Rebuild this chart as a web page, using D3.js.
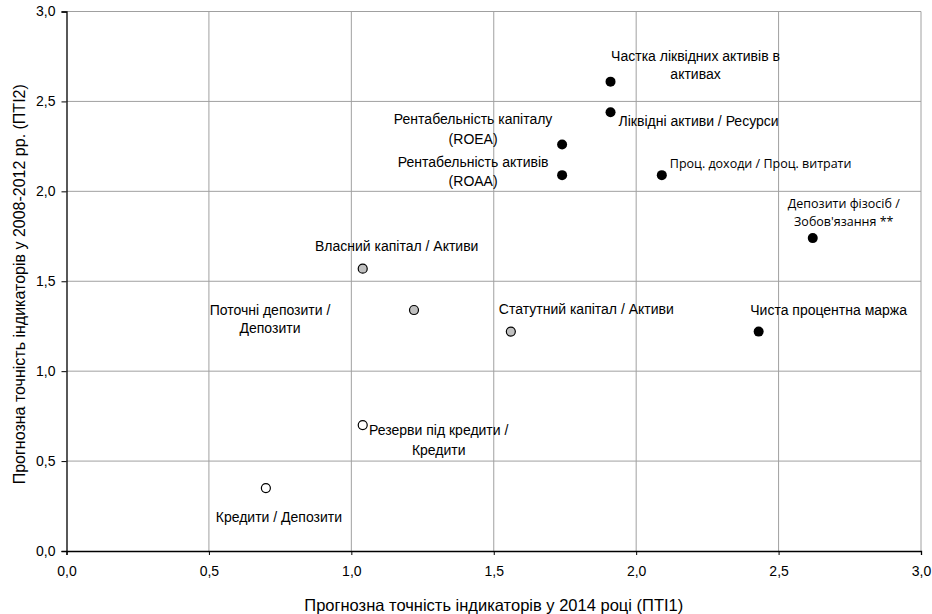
<!DOCTYPE html>
<html>
<head>
<meta charset="utf-8">
<script src="https://cdn.jsdelivr.net/npm/d3@7"></script>
<style>
  body { margin: 0; background: #fff; }
  text { font-family: "Liberation Sans", Arial, sans-serif; fill: #000; }
</style>
</head>
<body>
<div id="chart"></div>
<script>
// indicator names (line breaks as in the picture)
let names = [
  ["Частка ліквідних активів в", "активах"],
  ["Ліквідні активи / Ресурси"],
  ["Рентабельність капіталу", "(ROEA)"],
  ["Рентабельність активів", "(ROAA)"],
  ["Проц. доходи / Проц. витрати"],
  ["Депозити фізосіб /", "Зобов'язання **"],
  ["Чиста процентна маржа"],
  ["Власний капітал / Активи"],
  ["Поточні депозити /", "Депозити"],
  ["Статутний капітал / Активи"],
  ["Резерви під кредити /", "Кредити"],
  ["Кредити / Депозити"]
];
let pti1 = [1.91, 1.91, 1.74, 1.74, 2.09, 2.62, 2.43, 1.04, 1.22, 1.56, 1.04, 0.70];
let pti2 = [2.61, 2.44, 2.26, 2.09, 2.09, 1.74, 1.22, 1.57, 1.34, 1.22, 0.70, 0.35];
let group = ["black", "black", "black", "black", "black", "black", "black", "gray", "gray", "gray", "white", "white"];
let ticks = [0, 0.5, 1, 1.5, 2, 2.5, 3];

// label placement relative to the point: dx, dy, anchor, line gap, font
let labelPos = [
  [85, -26, "middle", 18, "sans"],
  [8, 9, "start", 18, "sans"],
  [-89, -25, "middle", 20, "sans"],
  [-89, -13, "middle", 19, "sans"],
  [8, -12, "start", 18, "open"],
  [31, -34, "middle", 18, "open"],
  [70, -22, "middle", 18, "sans"],
  [34, -23, "middle", 18, "sans"],
  [-144, 0, "middle", 18, "sans"],
  [-12, -23, "start", 18, "sans"],
  [76, 5, "middle", 20, "sans"],
  [13, 29, "middle", 18, "sans"]
];

let width = 932, height = 614;
let margin = {left: 66.5, right: 11, top: 11.5, bottom: 63};

let fills = {black: "#000000", gray: "#c0c0c0", white: "#ffffff"};
let radius = {black: 5, gray: 4.5, white: 4.5};

let data = names.map(function(n, i){
  return {name: n, x: pti1[i], y: pti2[i], g: group[i], lab: labelPos[i]};
});

let viz = d3.select("#chart")
  .append("svg")
    .attr("width", width)
    .attr("height", height)
;

let xScale = d3.scaleLinear().domain([0, 3]).range([margin.left, width - margin.right]);
let yScale = d3.scaleLinear().domain([0, 3]).range([height - margin.bottom, margin.top]);

let fmt = function(d){ return d3.format(".1f")(d).replace(".", ","); };

// grid
viz.append("g").selectAll("line").data(ticks.slice(1))
  .enter().append("line")
    .attr("x1", d => xScale(d)).attr("x2", d => xScale(d))
    .attr("y1", yScale(0)).attr("y2", yScale(3))
    .attr("stroke", "#a0a0a0").attr("stroke-width", 1)
;
viz.append("g").selectAll("line").data(ticks.slice(1))
  .enter().append("line")
    .attr("y1", d => yScale(d)).attr("y2", d => yScale(d))
    .attr("x1", xScale(0)).attr("x2", xScale(3))
    .attr("stroke", "#a0a0a0").attr("stroke-width", 1)
;

// axes
let xAxis = viz.append("g")
  .attr("transform", "translate(0," + yScale(0) + ")")
  .call(d3.axisBottom(xScale).tickValues(ticks).tickFormat(fmt).tickSize(4).tickPadding(11))
;
let yAxis = viz.append("g")
  .attr("transform", "translate(" + xScale(0) + ",0)")
  .call(d3.axisLeft(yScale).tickValues(ticks).tickFormat(fmt).tickSize(5).tickPadding(6))
;
[xAxis, yAxis].forEach(function(a){
  a.selectAll("text").style("font-size", "14px").style("font-family", "Liberation Sans, Arial, sans-serif");
  a.select(".domain").attr("stroke", "#000").attr("stroke-width", 1.3);
});

// axis titles
viz.append("text")
  .attr("x", (xScale(0) + xScale(3)) / 2)
  .attr("y", 605).attr("dy", "0.35em")
  .attr("text-anchor", "middle")
  .style("font-size", "16.5px")
  .text("Прогнозна точність індикаторів у 2014 році (ПТІ1)")
;
viz.append("text")
  .attr("transform", "translate(19," + ((yScale(0) + yScale(3)) / 2 + 3) + ") rotate(-90)")
  .attr("dy", "0.35em")
  .attr("text-anchor", "middle")
  .style("font-size", "16px")
  .text("Прогнозна точність індикаторів у 2008-2012 рр. (ПТІ2)")
;

// points
viz.selectAll("circle").data(data)
  .enter()
    .append("circle")
    .attr("cx", d => xScale(d.x))
    .attr("cy", d => yScale(d.y))
    .attr("r", d => radius[d.g])
    .attr("fill", d => fills[d.g])
    .attr("stroke", "#000")
    .attr("stroke-width", d => d.g == "black" ? 0 : 1.2)
;

// labels
let labels = viz.selectAll("text.lbl").data(data)
  .enter()
    .append("text")
    .attr("class", "lbl")
    .attr("text-anchor", d => d.lab[2])
    .style("font-size", d => d.lab[4] == "open" ? "12.5px" : "14px")
    .style("font-family", d => d.lab[4] == "open" ? "Open Sans, sans-serif" : "Liberation Sans, Arial, sans-serif")
;
labels.each(function(d){
  let t = d3.select(this);
  let px = xScale(d.x) + d.lab[0];
  let py = yScale(d.y) + d.lab[1];
  d.name.forEach(function(line, k){
    t.append("tspan")
      .attr("x", px)
      .attr("y", py + k * d.lab[3])
      .attr("dy", "0.35em")
      .text(line);
  });
});
</script>
</body>
</html>
